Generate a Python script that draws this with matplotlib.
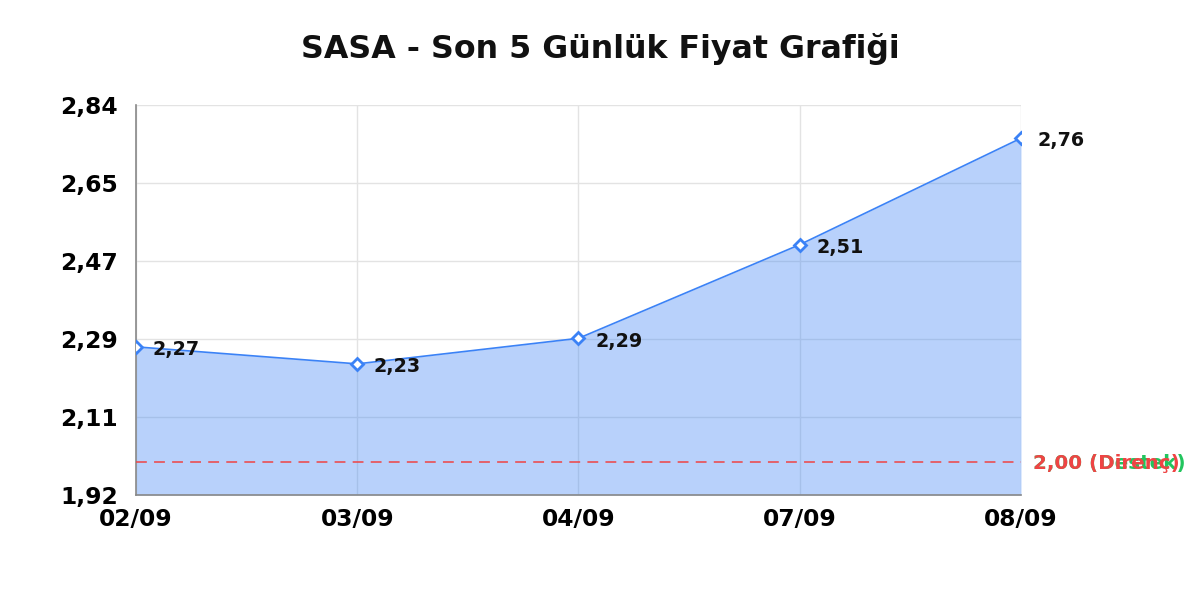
import matplotlib
matplotlib.use("Agg")
import matplotlib.pyplot as plt
import numpy as np

dates = ["02/09", "03/09", "04/09", "07/09", "08/09"]
prices = [2.27, 2.23, 2.29, 2.51, 2.76]
support = 2.00
resistance = 2.00
y_min, y_max = 1.922, 2.838

plt.rcParams['font.family'] = ['DejaVu Sans']

fig = plt.figure(figsize=(12, 6), dpi=100)
ax = fig.add_axes([0.1133, 0.175, 0.7375, 0.65])

x = np.arange(len(dates))
line_color = "#3b82f6"
ax.fill_between(x, prices, y_min, color=line_color, alpha=0.36, linewidth=0, zorder=2)
ax.plot(x, prices, color=line_color, linewidth=1.2, zorder=3)
ax.plot(x, prices, linestyle="none", marker="D", markersize=6.5, markerfacecolor="white",
        markeredgecolor=line_color, markeredgewidth=2, zorder=4)

for xi, p in zip(x, prices):
    ax.annotate(f"{p:.2f}".replace(".", ","), (xi, p), xytext=(12, -2),
                textcoords="offset points", ha="left", va="center",
                fontsize=13.8, fontweight="bold", color="#111111", zorder=5,
                annotation_clip=False)

ax.axhline(support, color="#ef4444", linestyle=(0, (6, 4)), linewidth=1.3, alpha=0.85, zorder=3)
ax.annotate(f"{support:.2f}".replace(".", ",") + " (Destek)", (1, support),
            xycoords=("axes fraction", "data"), xytext=(9, -1), textcoords="offset points",
            ha="left", va="center", fontsize=14.3, fontweight="bold", color="#22c55e",
            annotation_clip=False)
ax.annotate(f"{resistance:.2f}".replace(".", ",") + " (Direnç)", (1, resistance),
            xycoords=("axes fraction", "data"), xytext=(9, -1), textcoords="offset points",
            ha="left", va="center", fontsize=14.3, fontweight="bold", color="#ef4444",
            annotation_clip=False)

ax.set_xlim(0, len(dates) - 1)
ax.set_ylim(y_min, y_max)
yt = np.linspace(y_min, y_max, 6)
ax.set_yticks(yt)
ax.set_yticklabels([f"{v:.2f}".replace(".", ",") for v in yt], fontsize=16.8, fontweight="bold")
ax.set_xticks(x)
ax.set_xticklabels(dates, fontsize=16.8, fontweight="bold")
ax.tick_params(axis="both", length=0)
ax.tick_params(axis="y", pad=13)
ax.tick_params(axis="x", pad=9)

ax.grid(True, color="#e3e3e3", linewidth=1, zorder=1)
ax.set_axisbelow(True)
for s in ["top", "right"]:
    ax.spines[s].set_visible(False)
for s in ["left", "bottom"]:
    ax.spines[s].set_color("#888888")
    ax.spines[s].set_linewidth(1.2)

fig.text(0.5, 0.918, "SASA - Son 5 Günlük Fiyat Grafiği", ha="center", va="center",
         fontsize=22.8, fontweight="bold", color="#111111")

fig.savefig("out.png", dpi=100, facecolor="white")
